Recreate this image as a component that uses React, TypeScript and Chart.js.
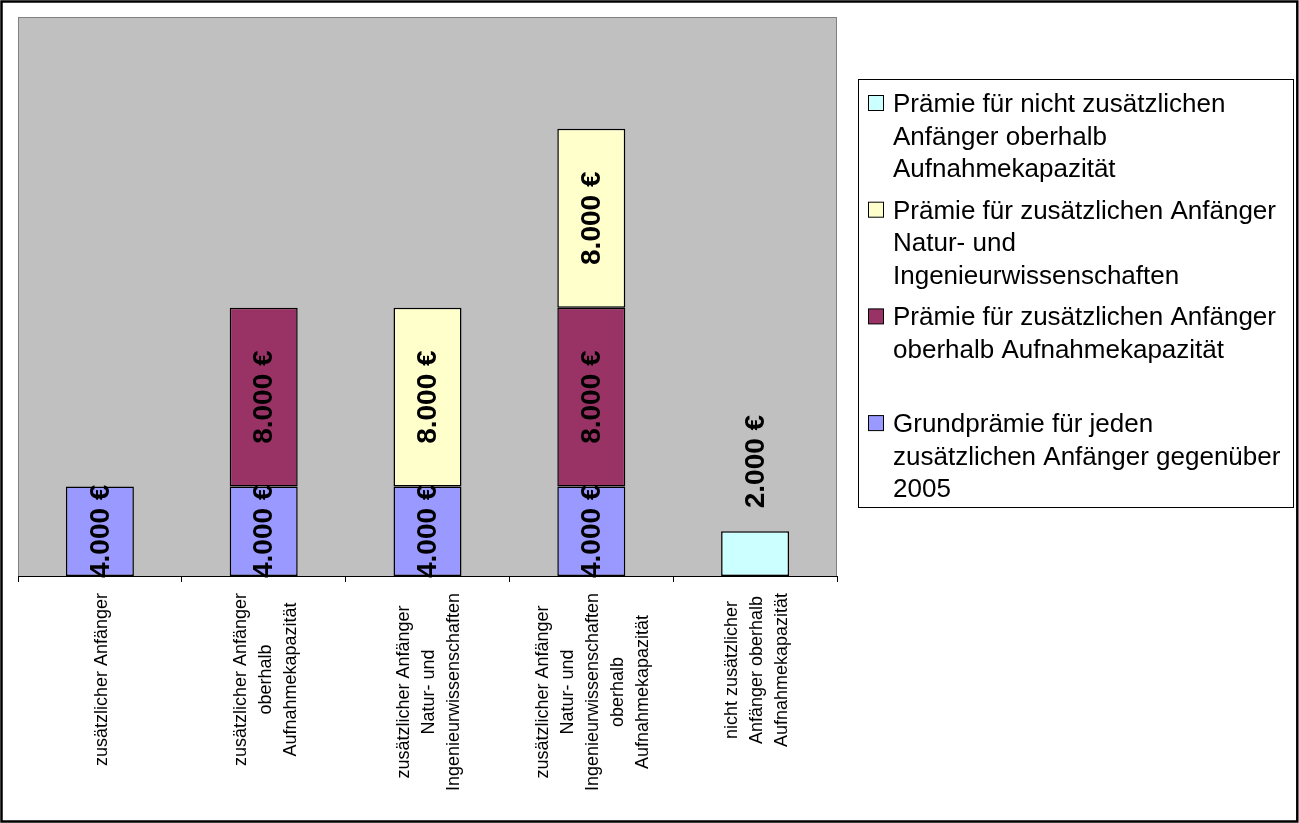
import React, { useEffect, useRef } from "react";
import { Chart, registerables } from "chart.js";

Chart.register(...registerables);

// ---------- data ----------
const categories: string[][] = [
  ["zusätzlicher Anfänger"],
  ["zusätzlicher Anfänger", "oberhalb", "Aufnahmekapazität"],
  ["zusätzlicher Anfänger", "Natur- und", "Ingenieurwissenschaften"],
  ["zusätzlicher Anfänger", "Natur- und", "Ingenieurwissenschaften", "oberhalb", "Aufnahmekapazität"],
  ["nicht zusätzlicher", "Anfänger oberhalb", "Aufnahmekapazität"],
];

const grundpraemie: (number | null)[] = [4000, 4000, 4000, 4000, null];
const oberhalbPraemie: (number | null)[] = [null, 8000, null, 8000, null];
const naturPraemie: (number | null)[] = [null, null, 8000, 8000, null];
const nichtZusaetzlichPraemie: (number | null)[] = [null, null, null, null, 2000];

const grundLines = ["Grundprämie für jeden", "zusätzlichen Anfänger gegenüber", "2005"];
const oberhalbLines = ["Prämie für zusätzlichen Anfänger", "oberhalb Aufnahmekapazität"];
const naturLines = ["Prämie für zusätzlichen Anfänger", "Natur- und", "Ingenieurwissenschaften"];
const nichtLines = ["Prämie für nicht zusätzlichen", "Anfänger oberhalb", "Aufnahmekapazität"];

const yMin = 0;
const yMax = 25000;

// ---------- helpers ----------
const FONT = "Arial, 'Liberation Sans', Helvetica, sans-serif";

function fmtEuro(v: number): string {
  return String(v).replace(/\B(?=(\d{3})+(?!\d))/g, ".") + " €";
}

const W = 1299;
const H = 823;

const backgroundPlugin = {
  id: "bgPlot",
  beforeDraw(chart: any) {
    const { ctx, chartArea } = chart;
    ctx.save();
    ctx.fillStyle = "#ffffff";
    ctx.fillRect(0, 0, W, H);
    // outer frame
    ctx.strokeStyle = "#000000";
    ctx.lineWidth = 2.5;
    ctx.strokeRect(1.5, 1.5, W - 3.2, H - 3);
    // plot area
    ctx.fillStyle = "#C0C0C0";
    ctx.fillRect(chartArea.left, chartArea.top, chartArea.right - chartArea.left, chartArea.bottom - chartArea.top);
    ctx.strokeStyle = "#808080";
    ctx.lineWidth = 1;
    ctx.strokeRect(chartArea.left + 0.5, chartArea.top + 0.5, chartArea.right - chartArea.left - 1, chartArea.bottom - chartArea.top);
    ctx.restore();
  },
};

const valueLabelPlugin = {
  id: "valueLabels",
  afterDatasetsDraw(chart: any) {
    const { ctx } = chart;
    ctx.save();
    ctx.font = `bold 28px ${FONT}`;
    ctx.fillStyle = "#000000";
    ctx.textAlign = "center";
    ctx.textBaseline = "middle";
    chart.data.datasets.forEach((ds: any, di: number) => {
      const meta = chart.getDatasetMeta(di);
      meta.data.forEach((el: any, i: number) => {
        const v = ds.data[i];
        if (v == null) return;
        const p = el.getProps(["x", "y", "base"], true);
        const text = fmtEuro(v);
        const tw = ctx.measureText(text).width;
        let cy = (p.y + p.base) / 2;
        if (ds.labelAbove) cy = p.y - 23 - tw / 2;
        ctx.save();
        ctx.translate(p.x, cy);
        ctx.rotate(-Math.PI / 2);
        ctx.fillText(text, 0, 1);
        ctx.restore();
      });
    });
    ctx.restore();
  },
};

const axisLabelPlugin = {
  id: "axisLabels",
  afterDraw(chart: any) {
    const { ctx } = chart;
    const xs = chart.scales.x;
    const bottom = chart.chartArea.bottom;
    ctx.save();
    ctx.font = `18px ${FONT}`;
    ctx.fillStyle = "#000000";
    ctx.textAlign = "center";
    ctx.textBaseline = "middle";
    categories.forEach((lines, i) => {
      const x = xs.getPixelForValue(i);
      const maxW = Math.max(...lines.map((l) => ctx.measureText(l).width));
      const cy = bottom + 17 + maxW / 2;
      const n = lines.length;
      lines.forEach((line, j) => {
        const lx = x + 2 + (j - (n - 1) / 2) * 25;
        ctx.save();
        ctx.translate(lx, cy);
        ctx.rotate(-Math.PI / 2);
        ctx.fillText(line, 0, 0);
        ctx.restore();
      });
    });
    ctx.restore();
  },
};

const legendPlugin = {
  id: "boxLegend",
  afterDraw(chart: any) {
    const { ctx } = chart;
    const boxL = 858, boxT = 79, boxR = 1293, boxB = 507;
    ctx.save();
    ctx.fillStyle = "#ffffff";
    ctx.fillRect(boxL, boxT, boxR - boxL, boxB - boxT);
    ctx.strokeStyle = "#000000";
    ctx.lineWidth = 1;
    ctx.strokeRect(boxL + 0.5, boxT + 0.5, boxR - boxL, boxB - boxT);
    ctx.font = `26px ${FONT}`;
    ctx.textAlign = "left";
    ctx.textBaseline = "alphabetic";
    const items = [...chart.data.datasets].reverse();
    items.forEach((ds: any, k: number) => {
      const base = 112 + k * 106.7;
      ctx.fillStyle = ds.backgroundColor;
      ctx.fillRect(868.5, base - 16.5, 15, 15);
      ctx.strokeStyle = "#000000";
      ctx.strokeRect(868.5, base - 16.5, 15, 15);
      ctx.fillStyle = "#000000";
      (ds.legendLines as string[]).forEach((line, j) => {
        ctx.fillText(line, 893, base + j * 32.5);
      });
    });
    ctx.restore();
  },
};

export default function App() {
  const canvasRef = useRef<HTMLCanvasElement | null>(null);

  useEffect(() => {
    if (!canvasRef.current) return;
    const barCommon = {
      borderColor: "#000000",
      borderWidth: 1.5,
      borderSkipped: false,
      barPercentage: 0.415,
      categoryPercentage: 1.0,
    };
    const chart = new Chart(canvasRef.current, {
      type: "bar",
      data: {
        labels: categories.map((c) => c.join(" ")),
        datasets: [
          { ...barCommon, label: grundLines.join(" "), legendLines: grundLines, data: grundpraemie, backgroundColor: "#9999FF" } as any,
          { ...barCommon, label: oberhalbLines.join(" "), legendLines: oberhalbLines, data: oberhalbPraemie, backgroundColor: "#993366" } as any,
          { ...barCommon, label: naturLines.join(" "), legendLines: naturLines, data: naturPraemie, backgroundColor: "#FFFFCC" } as any,
          { ...barCommon, label: nichtLines.join(" "), legendLines: nichtLines, data: nichtZusaetzlichPraemie, backgroundColor: "#CCFFFF", labelAbove: true } as any,
        ],
      },
      options: {
        animation: false,
        responsive: false,
        devicePixelRatio: 1,
        layout: { padding: { left: 18, top: 17, right: W - 837, bottom: 0 } },
        plugins: {
          legend: { display: false },
          tooltip: { enabled: false },
          title: { display: false },
        },
        scales: {
          x: {
            stacked: true,
            ticks: { display: false },
            grid: {
              display: true,
              drawOnChartArea: false,
              drawTicks: true,
              tickLength: 6,
              color: "#000000",
              offset: true,
            },
            border: { display: true, color: "#000000", width: 1 },
            afterFit: (scale: any) => {
              scale.height = H - 576;
            },
          },
          y: {
            stacked: true,
            display: false,
            min: yMin,
            max: yMax,
          },
        },
      },
      plugins: [backgroundPlugin, valueLabelPlugin, axisLabelPlugin, legendPlugin],
    });
    return () => chart.destroy();
  }, []);

  return (
    <div style={{ position: "absolute", left: 0, top: 0, width: W, height: H, background: "#fff" }}>
      <canvas ref={canvasRef} width={W} height={H} style={{ display: "block", width: W, height: H }} />
    </div>
  );
}
